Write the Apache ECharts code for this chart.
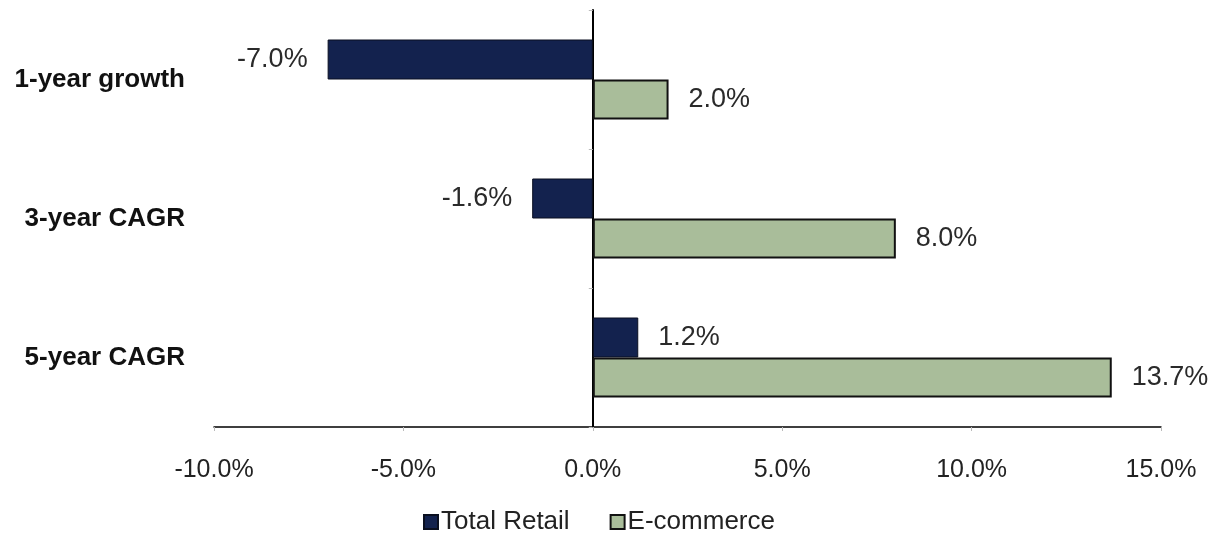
<!DOCTYPE html>
<html><head><meta charset="utf-8">
<script src="https://cdn.jsdelivr.net/npm/echarts@6/dist/echarts.min.js"></script>
<style>html,body{margin:0;padding:0;background:#fff}#c{width:1228px;height:543px}</style>
</head><body><div id="c"></div>
<script>
const categories = ['1-year growth', '3-year CAGR', '5-year CAGR'];
const totalRetail = [-7.0, -1.6, 1.2];
const ecommerce = [2.0, 8.0, 13.7];
const xTicks = [-10, -5, 0, 5, 10, 15];

const chart = echarts.init(document.getElementById('c'));
const F = '"Liberation Sans", Arial, sans-serif';
function lbl(){
  return {
    show: true,
    position: 'right',
    distance: 20,
    fontFamily: F, fontSize: 27, color: '#2a2a2a',
    formatter: p => p.value.toFixed(1) + '%'
  };
}
chart.setOption({
  animation: false,
  grid: {left: 214, right: 67, top: 10, bottom: 116},
  legend: {
    bottom: 3, left: 418, itemWidth: 14, itemHeight: 14, itemGap: 40,
    icon: 'rect',
    textStyle: {fontFamily: F, fontSize: 26, color: '#222', padding: [0,0,0,-2]},
    data: ['Total Retail', 'E-commerce']
  },
  xAxis: {
    type: 'value', min: -10, max: 15, interval: 5,
    axisLine: {show: true, lineStyle: {color: '#000', width: 1.5}},
    axisTick: {show: true, length: 4, lineStyle: {color: '#bbb'}},
    splitLine: {show: false},
    axisLabel: {margin: 31, fontFamily: F, fontSize: 25, color: '#222',
      formatter: v => xTicks.includes(v) ? v.toFixed(1) + '%' : ''}
  },
  yAxis: [{
    type: 'category', data: categories, inverse: true,
    axisLine: {show: false, onZero: false},
    axisTick: {show: false},
    axisLabel: {margin: 29, fontFamily: F, fontSize: 26, fontWeight: 'bold', color: '#111'}
  }, {
    type: 'category', data: categories, inverse: true, position: 'left',
    axisLine: {show: true, onZero: true, lineStyle: {color: '#000', width: 2}},
    axisTick: {show: true, length: 4, lineStyle: {color: '#bbb'}},
    axisLabel: {show: false}
  }],
  series: [{
    name: 'Total Retail', type: 'bar', yAxisIndex: 0, data: totalRetail.map(v => ({
      value: v, label: Object.assign(lbl(), {position: v < 0 ? 'left' : 'right'})
    })),
    barWidth: 40, barGap: '0%',
    itemStyle: {color: '#13224e', borderColor: '#0a0f20', borderWidth: 1}
  }, {
    name: 'E-commerce', type: 'bar', yAxisIndex: 0, data: ecommerce,
    barWidth: 40, barGap: '0%',
    label: lbl(),
    itemStyle: {color: '#a9bd9a', borderColor: '#111', borderWidth: 2}
  }]
});
</script></body></html>
